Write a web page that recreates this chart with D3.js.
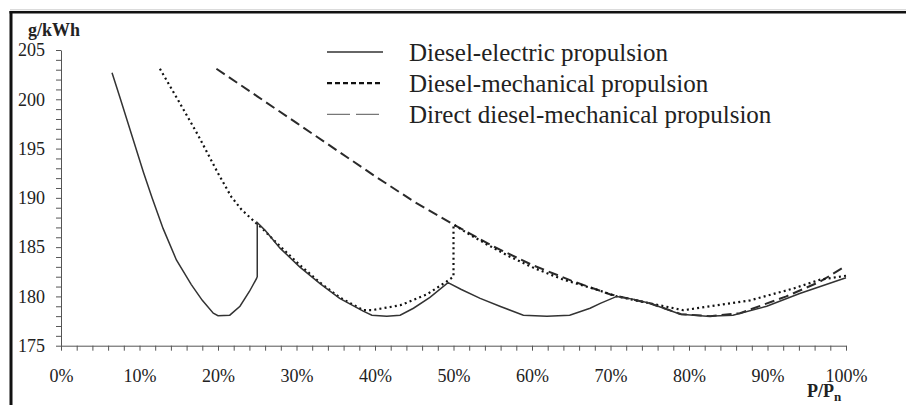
<!DOCTYPE html>
<html>
<head>
<meta charset="utf-8">
<script src="https://cdn.jsdelivr.net/npm/d3@7"></script>
<style>
  body { margin: 0; background: #fff; }
  svg { display: block; }
  .axis path, .axis line { stroke: #555; }
  .axis text { font-family: "Liberation Serif", serif; font-size: 18px; fill: #222; }
</style>
</head>
<body>
<svg id="chart" width="906" height="405"></svg>
<script>
// series: P/Pn (%) and g/kWh
var electricX = [6.5, 7.5, 9.2, 10.5, 11.6, 13.0, 14.7, 16.6, 18.0, 19.4, 20.0, 21.5, 22.8, 24.0, 24.9, 25.0,
  25.0, 26.0, 27.9, 30.4, 33.0, 35.5, 38.5, 39.6, 41.5, 43.2, 44.9, 47.0, 49.3, 51.0, 53.4, 55.9, 58.9,
  61.9, 64.8, 67.4, 68.7, 70.8, 73.0, 75.0, 78.9, 82.3, 85.6, 89.9, 94.1, 100];
var electricY = [202.7, 200.2, 195.9, 192.6, 190.0, 186.9, 183.7, 181.2, 179.6, 178.3, 178.05, 178.1, 179.0, 180.5, 181.8, 182.0,
  187.5, 186.7, 184.9, 183.0, 181.3, 179.8, 178.5, 178.1, 178.0, 178.1, 178.8, 179.9, 181.4, 180.7, 179.8, 179.0, 178.1,
  178.0, 178.1, 178.8, 179.3, 180.0, 179.7, 179.3, 178.2, 178.0, 178.1, 179.0, 180.3, 181.9];

var mechX = [12.6, 15.0, 17.5, 20.0, 21.7, 23.0, 24.9, 25.5, 27.5, 30.4, 33.0, 35.5, 38.5, 39.6, 41.0, 43.2, 46.6, 49.1, 50.0,
  50.0, 52.0, 54.2, 57.0, 60.2, 64.0, 68.2, 70.8, 75.0, 79.3, 82.7, 87.8, 93.3, 96.7, 100];
var mechY = [203.1, 199.8, 196.3, 192.5, 190.1, 188.8, 187.4, 187.0, 185.4, 183.2, 181.4, 179.9, 178.6, 178.6, 178.8, 179.1, 180.2, 181.5, 182.0,
  187.3, 186.3, 185.3, 184.1, 182.9, 181.7, 180.7, 180.0, 179.3, 178.6, 179.0, 179.6, 180.8, 181.7, 182.1];

var directX = [19.8, 25, 30, 35, 40, 45, 50, 55, 60, 65, 70, 75, 79, 82.7, 86.5, 92.4, 96.7, 100];
var directY = [203.1, 200.3, 197.6, 194.9, 192.2, 189.6, 187.3, 185.1, 183.2, 181.6, 180.2, 179.3, 178.2, 178.0, 178.3, 180.0, 181.5, 183.1];

var seriesNames = ['Diesel-electric propulsion', 'Diesel-mechanical propulsion', 'Direct diesel-mechanical propulsion'];
var xTicks = d3.range(0, 101, 2);
var yTicks = d3.range(175, 206, 1);

var svg = d3.select('#chart');
var x = d3.scaleLinear().domain([0, 100]).range([61, 846]);
var y = d3.scaleLinear().domain([175, 205]).range([345.7, 50]);

// frame
svg.append('line').attr('x1', 10).attr('x2', 906).attr('y1', 9.8).attr('y2', 9.8)
  .attr('stroke', '#ccc').attr('stroke-width', 1);
svg.append('line').attr('x1', 9.5).attr('x2', 906).attr('y1', 12.2).attr('y2', 12.2)
  .attr('stroke', '#111').attr('stroke-width', 2.4);
svg.append('line').attr('x1', 11).attr('x2', 11).attr('y1', 11).attr('y2', 405)
  .attr('stroke', '#111').attr('stroke-width', 3);

// axes
svg.append('g')
  .attr('class', 'axis')
  .attr('transform', 'translate(0,' + y(175) + ')')
  .call(d3.axisBottom(x).tickValues(xTicks).tickSize(5).tickSizeOuter(0).tickPadding(18.5)
    .tickFormat(d => d % 10 === 0 ? d + '%' : ''));

svg.append('g')
  .attr('class', 'axis')
  .attr('transform', 'translate(' + x(0) + ',0)')
  .call(d3.axisLeft(y).tickValues(yTicks).tickSize(5).tickSizeOuter(0).tickPadding(11)
    .tickFormat(d => d % 5 === 0 ? d : ''));

// axis titles
svg.append('text').attr('x', 28).attr('y', 36)
  .attr('font-family', 'Liberation Serif').attr('font-size', 18).attr('font-weight', 700)
  .attr('fill', '#222').text('g/kWh');
var pt = svg.append('text').attr('x', 807).attr('y', 397)
  .attr('font-family', 'Liberation Serif').attr('font-size', 18).attr('font-weight', 700)
  .attr('fill', '#222');
pt.append('tspan').text('P/P');
pt.append('tspan').attr('dy', 4).attr('font-size', 13).text('n');

// lines
var line = d3.line().x(d => x(d[0])).y(d => y(d[1]));
var zip = (a, b) => a.map((v, i) => [v, b[i]]);

svg.append('path').datum(zip(directX, directY))
  .attr('d', line).attr('fill', 'none')
  .attr('stroke', '#2a2a2a').attr('stroke-width', 2).attr('stroke-dasharray', '10,5');
svg.append('path').datum(zip(mechX, mechY))
  .attr('d', line).attr('fill', 'none')
  .attr('stroke', '#111').attr('stroke-width', 2.2).attr('stroke-dasharray', '2,3.2');
svg.append('path').datum(zip(electricX, electricY))
  .attr('d', line).attr('fill', 'none')
  .attr('stroke', '#333').attr('stroke-width', 1.5);

// legend
var legDash = [null, '5,3', '23,6'];
var legColor = ['#333', '#111', '#777'];
var legWidth = [1.5, 2.2, 1.3];
var leg = svg.selectAll('.leg')
  .data(seriesNames)
  .enter()
  .append('g')
  .attr('class', 'leg')
  .attr('transform', (d, i) => 'translate(0,' + (61 + i * 31.2) + ')');
leg.append('line')
  .attr('x1', 327).attr('x2', 383).attr('y1', -9).attr('y2', -9)
  .attr('stroke', (d, i) => legColor[i])
  .attr('stroke-width', (d, i) => legWidth[i])
  .attr('stroke-dasharray', (d, i) => legDash[i]);
leg.append('text')
  .attr('x', 409).attr('y', 0)
  .attr('font-family', 'Liberation Serif').attr('font-size', 25)
  .attr('fill', '#222')
  .text(d => d);
</script>
</body>
</html>
